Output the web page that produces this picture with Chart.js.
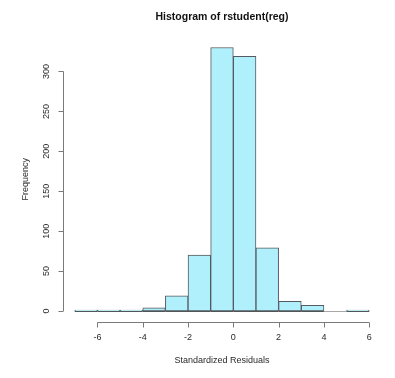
<!DOCTYPE html>
<html>
<head>
<meta charset="utf-8">
<script src="https://cdn.jsdelivr.net/npm/chart.js@4.4.1/dist/chart.umd.min.js"></script>
<style>
  html, body { margin: 0; padding: 0; background: #fff; }
  #wrap { width: 395px; height: 378px; }
</style>
</head>
<body>
<div id="wrap"><canvas id="hist" width="395" height="378"></canvas></div>
<script>
// histogram of studentized residuals
const breaks = [-7, -6, -5, -4, -3, -2, -1, 0, 1, 2, 3, 4, 5, 6];
const counts = [1, 1, 1, 4, 19, 70, 330, 319, 79, 12, 7, 0, 1];
const xTicks = [-6, -4, -2, 0, 2, 4, 6];
const yTicks = [0, 50, 100, 150, 200, 250, 300];

const FONT = "'Liberation Sans', Arial, Helvetica, sans-serif";
const TEXT = '#2a2a2a';
const AXIS = '#7a7a7a';

const bins = counts.map((c, i) => ({ x: (breaks[i] + breaks[i + 1]) / 2, y: c }));

// R-style axes: lines only over the tick range, ticks pointing out
const rAxes = {
  id: 'rAxes',
  afterDatasetsDraw(chart) {
    const ctx = chart.ctx;
    const xs = chart.scales.x, ys = chart.scales.y;
    const area = chart.chartArea;
    ctx.save();
    ctx.lineWidth = 1;

    // bottom edge of each bin (tiny and empty bins show only as a line)
    const y0 = Math.round(ys.getPixelForValue(0)) + 0.5;
    counts.forEach((c, i) => {
      ctx.strokeStyle = c > 0 ? '#4f5558' : '#a8a8a8';
      ctx.beginPath();
      ctx.moveTo(xs.getPixelForValue(breaks[i]), y0);
      ctx.lineTo(xs.getPixelForValue(breaks[i + 1]), y0);
      ctx.stroke();
    });

    ctx.strokeStyle = AXIS;
    // x axis
    const yb = Math.round(area.bottom) + 0.5;
    ctx.beginPath();
    ctx.moveTo(xs.getPixelForValue(xTicks[0]), yb);
    ctx.lineTo(xs.getPixelForValue(xTicks[xTicks.length - 1]), yb);
    xTicks.forEach(v => {
      const px = Math.round(xs.getPixelForValue(v)) + 0.5;
      ctx.moveTo(px, yb);
      ctx.lineTo(px, yb + 5);
    });
    ctx.stroke();

    // y axis
    const xl = Math.round(area.left) + 0.5;
    ctx.beginPath();
    ctx.moveTo(xl, ys.getPixelForValue(yTicks[0]));
    ctx.lineTo(xl, ys.getPixelForValue(yTicks[yTicks.length - 1]));
    yTicks.forEach(v => {
      const py = Math.round(ys.getPixelForValue(v)) + 0.5;
      ctx.moveTo(xl, py);
      ctx.lineTo(xl - 5, py);
    });
    ctx.stroke();

    // y tick labels, rotated like R's las=0
    ctx.fillStyle = TEXT;
    ctx.font = '9px ' + FONT;
    ctx.textAlign = 'center';
    ctx.textBaseline = 'middle';
    yTicks.forEach(v => {
      ctx.save();
      ctx.translate(area.left - 16.5, ys.getPixelForValue(v));
      ctx.rotate(-Math.PI / 2);
      ctx.fillText(String(v), 0, 0);
      ctx.restore();
    });
    ctx.restore();
  }
};

new Chart(document.getElementById('hist'), {
  type: 'bar',
  data: {
    datasets: [{
      data: bins,
      backgroundColor: '#b0effc',
      borderColor: '#555a5e',
      borderWidth: 1,
      borderSkipped: false,
      barPercentage: 1,
      categoryPercentage: 1
    }]
  },
  options: {
    responsive: false,
    animation: false,
    layout: { padding: { left: 0, right: 14, top: 0, bottom: 0 } },
    plugins: {
      legend: { display: false },
      tooltip: { enabled: false },
      title: {
        display: true,
        fullSize: false,
        text: 'Histogram of rstudent(reg)',
        color: '#111',
        font: { family: FONT, size: 10.5, weight: 'bold', lineHeight: 1.2 },
        padding: { top: 10.4, bottom: 14 }
      }
    },
    scales: {
      x: {
        type: 'linear',
        offset: false,
        min: -7.52,
        max: 6.52,
        afterBuildTicks: s => { s.ticks = xTicks.map(v => ({ value: v })); },
        afterFit: s => { s.height = 56.5; },
        grid: { display: false, drawTicks: true, tickLength: 5 },
        border: { display: false },
        ticks: { color: TEXT, font: { family: FONT, size: 9 }, padding: 6, maxRotation: 0, autoSkip: false },
        title: {
          display: true,
          text: 'Standardized Residuals',
          color: TEXT,
          font: { family: FONT, size: 9, lineHeight: 1.2 },
          padding: { top: 0, bottom: 11.9 }
        }
      },
      y: {
        type: 'linear',
        min: -13.2,
        max: 343.2,
        afterBuildTicks: s => { s.ticks = yTicks.map(v => ({ value: v })); },
        afterFit: s => { s.width = 63; },
        grid: { display: false },
        border: { display: false },
        ticks: { display: false },
        title: {
          display: true,
          text: 'Frequency',
          color: TEXT,
          font: { family: FONT, size: 9, lineHeight: 1.2 },
          padding: { top: 20.6, bottom: 0 }
        }
      }
    }
  },
  plugins: [rAxes]
});
</script>
</body>
</html>
